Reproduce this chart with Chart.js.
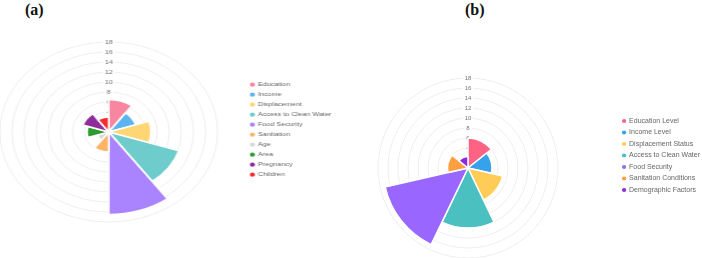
<!DOCTYPE html>
<html>
<head>
<meta charset="utf-8">
<script src="https://cdn.jsdelivr.net/npm/chart.js@4.4.0/dist/chart.umd.min.js"></script>
<style>
    html, body { margin: 0; padding: 0; background: #fff; }
    body { width: 702px; height: 258px; overflow: hidden; position: relative; }
    .tag { position: absolute; font: bold 16px 'Liberation Serif', 'Times New Roman', serif; color: #111; }
    .panel { position: absolute; }
    #panelA { left: -28px; top: 37px; width: 307px; height: 190px; transform: scaleX(1.21); transform-origin: 0 0; }
    #panelB { left: 319px; top: 73px; width: 391px; height: 190px; }
</style>
</head>
<body>
<div class="tag" style="left:25px;top:1px">(a)</div>
<div class="tag" style="left:465px;top:1px">(b)</div>
<div class="panel" id="panelA"><canvas id="chartA"></canvas></div>
<div class="panel" id="panelB"><canvas id="chartB"></canvas></div>
<script>
// Panel (a)
const labelsA = ['Education', 'Income', 'Displacement', 'Access to Clean Water', 'Food Security',
    'Sanitation', 'Age', 'Area', 'Pregnancy', 'Children'];
const valuesA = [6.5, 4.7, 7, 12.2, 16.5, 4, 2, 3.6, 4.5, 3];
const colorsA = ['#F986A0', '#5AB4F0', '#FFD673', '#6ECCCC', '#AA84FF',
    '#FFB366', '#D8D8D8', '#2E9B2E', '#8E2C9A', '#F52C2C'];

// Panel (b)
const labelsB = ['Education Level', 'Income Level', 'Displacement Status', 'Access to Clean Water',
    'Food Security', 'Sanitation Conditions', 'Demographic Factors'];
const valuesB = [6, 4.8, 7.1, 12, 17, 4.1, 2.3];
const colorsB = ['#FF6384', '#36A2EB', '#FFCD56', '#4BC0C0', '#9966FF', '#FF9F40', '#8A2BE2'];

// radial axis
const tickMax = 18;
const tickStep = 2;

Chart.defaults.font.family = "'Liberation Sans', Arial, sans-serif";
Chart.defaults.color = '#666';

const baseLabels = Chart.overrides.polarArea.plugins.legend.labels.generateLabels;

// legendTop pushes the legend rows down from the top of the canvas
const makeChart = (id, labels, values, colors, legendFont, legendPad, legendTop) => {
    new Chart(id, {
        type: 'polarArea',
        data: {
            labels: labels,
            datasets: [
                {
                    data: values,
                    backgroundColor: colors,
                    borderColor: '#fff',
                    borderWidth: 1.5,
                },
            ],
        },
        options: {
            responsive: true,
            maintainAspectRatio: false,
            animation: false,
            layout: { padding: 0 },
            scales: {
                r: {
                    min: 0,
                    max: tickMax,
                    ticks: { stepSize: tickStep, font: { size: 6 }, color: '#777' },
                    grid: { color: 'rgba(0,0,0,0.07)' },
                },
            },
            plugins: {
                tooltip: { enabled: false },
                legend: {
                    position: 'right',
                    align: 'start',
                    title: { display: true, text: '', font: { size: legendFont }, padding: { top: legendTop, bottom: 0 } },
                    labels: {
                        usePointStyle: true,
                        pointStyle: 'circle',
                        boxWidth: 3,
                        boxHeight: 3,
                        padding: legendPad,
                        font: { size: legendFont },
                        color: '#666',
                        generateLabels: (chart) => baseLabels(chart).map((l) => Object.assign(l, { lineWidth: 0 })),
                    },
                },
            },
        },
    });
};

makeChart('chartA', labelsA, valuesA, colorsA, 6, 4, 33.5);
makeChart('chartB', labelsB, valuesB, colorsB, 7, 4.5, 31.6);
</script>
</body>
</html>
